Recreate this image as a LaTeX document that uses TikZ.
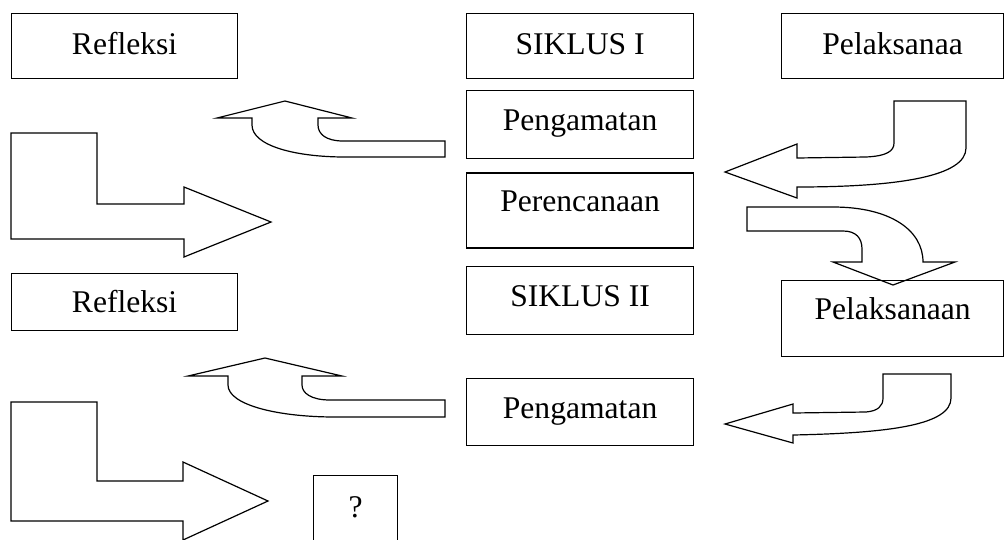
\documentclass[tikz,border=0pt]{standalone}
\usepackage{fontspec}
\setmainfont{Liberation Serif}
\usetikzlibrary{positioning}

\begin{document}
\begin{tikzpicture}[x=1pt, y=-1pt,
                    box/.style = {draw, line width=1.2pt, inner sep=0pt, anchor=north west,
                                  font=\fontsize{31.6}{38}\selectfont, text height=22pt, text depth=6pt},
                    lift/.style = {text depth=#1},
                    bigarrow/.style = {draw, line width=1.2pt, line join=miter}]
                \useasboundingbox (0,0) rectangle (1004,539);
                \draw[bigarrow] (445,141) -- (343,141) .. controls (326,141) and (318,134) .. (318,125) -- (318,118)
                    -- (352,118) -- (285,101) -- (217,118) -- (252,118) -- (252,125)
                    .. controls (252,146) and (296,157) .. (345,157) -- (445,157) -- cycle;
                \draw[bigarrow] (11,133) -- (97,133) -- (97,204) -- (184,204) -- (184,187) -- (271,222)
                    -- (184,257) -- (184,239) -- (11,239) -- cycle;
                \draw[bigarrow] (894,101) -- (966,101) -- (966,148) .. controls (966,176) and (900,187) .. (797,187)
                    -- (797,198) -- (725,172) -- (797,144) -- (797,158) -- (866,157)
                    .. controls (887,156) and (894,151) .. (894,143) -- cycle;
                \draw[bigarrow] (747,207) -- (833,207) .. controls (890,207) and (923,230) .. (923,262)
                    -- (955,262) -- (893,285) -- (833,262) -- (862,262) -- (862,249)
                    .. controls (862,238) and (856,231) .. (843,231) -- (747,231) -- cycle;
                \draw[bigarrow] (445,400) -- (330,400) .. controls (311,400) and (302,393) .. (302,385) -- (302,376)
                    -- (342,376) -- (265,358) -- (188,376) -- (228,376) -- (228,385)
                    .. controls (228,405) and (278,417) .. (335,417) -- (445,417) -- cycle;
                \draw[bigarrow] (11,402) -- (97,402) -- (97,481) -- (183,481) -- (183,462) -- (268,501)
                    -- (183,540) -- (183,521) -- (11,521) -- cycle;
                \draw[bigarrow] (883,374) -- (951,374) -- (951,398) .. controls (951,425) and (890,433) .. (793,435)
                    -- (793,443) -- (725,424) -- (793,404) -- (793,413) -- (866,412)
                    .. controls (878,411) and (883,406) .. (883,398) -- cycle;
                \node[box, minimum width=226pt, minimum height=65pt] (refA) at (11,13) {Refleksi};
                \node[box, minimum width=227pt, minimum height=65pt] (sikA) at (466,13) {SIKLUS I};
                \node[box, minimum width=222pt, minimum height=65pt] (pelA) at (781,13) {Pelaksanaa};
                \node[box, minimum width=227pt, minimum height=68pt, lift=11pt, below=11pt of sikA] (pengA) {Pengamatan};
                \node[box, minimum width=227pt, minimum height=75pt, lift=20pt, below=13pt of pengA] (perA) {Perencanaan};
                \node[box, minimum width=227pt, minimum height=68pt, lift=9pt, below=17pt of perA] (sikB) {SIKLUS II};
                \node[box, minimum width=227pt, minimum height=67pt, lift=8pt, below=43pt of sikB] (pengB) {Pengamatan};
                \node[box, minimum width=226pt, minimum height=57pt, lift=1pt] (refB) at (11,273) {Refleksi};
                \node[box, minimum width=222pt, minimum height=76pt, lift=21pt] (pelB) at (781,280) {Pelaksanaan};
                \node[box, minimum width=84pt, minimum height=70pt, lift=9pt] (tanya) at (313,475) {?};
                \end{tikzpicture}
\end{document}
